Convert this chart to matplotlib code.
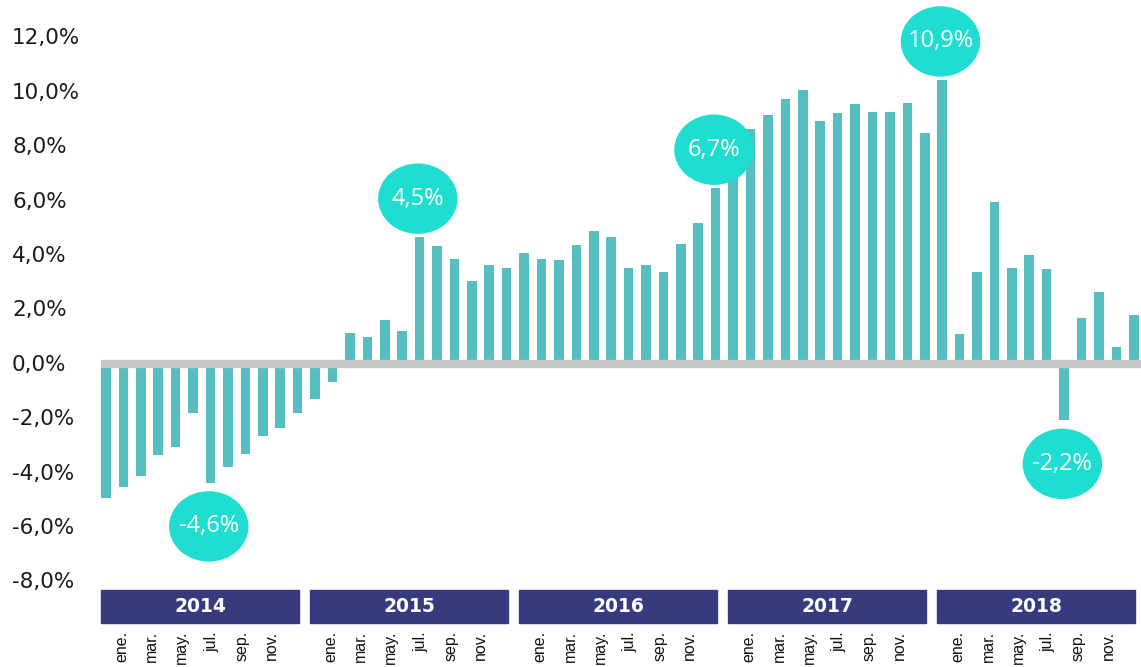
import matplotlib.pyplot as plt
from matplotlib.patches import Ellipse, Rectangle
from matplotlib.transforms import blended_transform_factory

# datos mensuales 2014-2018 (variacion interanual, %)
years = ['2014', '2015', '2016', '2017', '2018']
month_labels = ['ene.', 'mar.', 'may.', 'jul.', 'sep.', 'nov.']
values = [
    -4.96, -4.55, -4.13, -3.38, -3.06, -1.83, -4.39, -3.81, -3.33, -2.68, -2.37, -1.83,
    -1.31, -0.67, 1.12, 0.96, 1.61, 1.19, 4.64, 4.31, 3.84, 3.05, 3.62, 3.52,
    4.05, 3.84, 3.80, 4.37, 4.86, 4.64, 3.52, 3.62, 3.37, 4.38, 5.16, 6.44,
    7.40, 8.61, 9.15, 9.73, 10.05, 8.93, 9.20, 9.53, 9.25, 9.25, 9.57, 8.46,
    10.42, 1.08, 3.37, 5.95, 3.52, 4.00, 3.46, -2.09, 1.66, 2.62, 0.61, 1.77,
]
yticks = [12, 10, 8, 6, 4, 2, 0, -2, -4, -6, -8]
# burbujas: indice de la barra y texto
bubble_idx = [6, 18, 35, 48, 55]
bubble_txt = ['-4,6%', '4,5%', '6,7%', '10,9%', '-2,2%']

BAR = '#56bdc0'
BUBBLE = '#1fddd1'
NAVY = '#373a7d'
GREY = '#c9c8c7'

W, H = 1141, 667
fig = plt.figure(figsize=(W / 100, H / 100), dpi=100)
ax = fig.add_axes([0, 0, 1, 1])
ax.set_axis_off()

# escala: 17.42 px por mes, 27.2 px por punto porcentual, cero en y=363.5
px_x, px_y = 17.42, 27.2
x0, y0 = 106, 363.5
ax.set_xlim(-x0 / px_x, (W - x0) / px_x)
ax.set_ylim((y0 - H) / px_y, y0 / px_y)

xs = list(range(len(values)))
ax.bar(xs, values, width=0.55, color=BAR, zorder=2)

# linea del cero gruesa
ax.plot([-0.28, len(values)], [0, 0], color=GREY, lw=6, solid_capstyle='butt', zorder=3)

# etiquetas eje y
tr = blended_transform_factory(ax.transAxes, ax.transData)
for v in yticks:
    ax.text(12 / W, v - 0.05, f'{v},0%', transform=tr, ha='left', va='center',
            fontsize=15.5, color='#1a1a1a', family='DejaVu Sans')

# burbujas
bw, bh = 78 / px_x, 69 / px_y
for i, t in zip(bubble_idx, bubble_txt):
    v = values[i]
    cy = v + 1.42 if v > 0 else v - 1.6
    ax.add_patch(Ellipse((i - 0.1, cy), bw, bh, color=BUBBLE, zorder=4))
    ax.text(i - 0.1, cy, t, ha='center', va='center', color='white', fontsize=17,
            family=['Open Sans', 'DejaVu Sans'], zorder=5)

# cajas de anos y meses
box_top = (y0 - 590) / px_y
box_h = 33 / px_y
for k, yr in enumerate(years):
    left = 12 * k - 0.29
    ax.add_patch(Rectangle((left, box_top - box_h), 11.37, box_h, color=NAVY, zorder=2,
                           clip_on=False))
    ax.text(left + 11.37 / 2, box_top - box_h / 2, yr, ha='center', va='center',
            color='white', fontsize=13.5, fontweight='bold', family='DejaVu Sans')
    for m, lab in enumerate(month_labels):
        ax.text(left + 1.2 + m * 2 * 0.861, (y0 - 631) / px_y, lab, rotation=90,
                ha='center', va='top', fontsize=11.5, color='#111111',
                family=['Liberation Sans', 'DejaVu Sans'])

plt.savefig('out.png', dpi=100)
plt.close()
